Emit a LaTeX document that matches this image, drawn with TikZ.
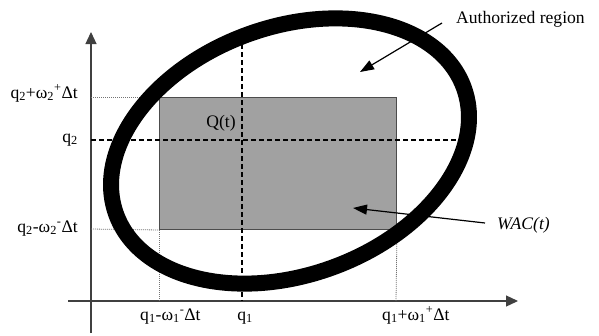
\documentclass[tikz,border=0pt]{standalone}
\usepackage{fontspec}
\setmainfont{Liberation Serif}
\usetikzlibrary{arrows.meta}
\begin{document}
\begin{tikzpicture}[x=1pt,y=-1pt,
  font=\fontsize{17.6}{20}\selectfont,
  lab/.style={inner sep=0pt},
  axisln/.style={line width=1.2pt, draw=black!75, -{Triangle[length=12pt,width=11pt]}},
  dashln/.style={line width=1.3pt, dash pattern=on 5pt off 3pt},
  dotln/.style={line width=0.8pt, draw=black!55, dash pattern=on 1pt off 1pt},
  ring/.style={line width=16pt},
  pointer/.style={line width=1.2pt, -{Triangle[length=14pt,width=10pt]}},
  wacbox/.style={draw=black!70, line width=1pt, fill=black!37, inner sep=0pt, anchor=north west}]
\useasboundingbox (0,0) rectangle (599,335);
% region box
\node[wacbox, minimum width=237pt, minimum height=132pt] (wac) at (159,97) {};
% axes
\coordinate (ybot) at (91,333);
\coordinate (ytop) at (91,32);
\coordinate (xleft) at (68,301);
\coordinate (xright) at (518,301);
\draw[axisln] (ybot) -- (ytop);
\draw[axisln] (xleft) -- (xright);
% dotted guides
\coordinate (yhi) at (91,97);
\coordinate (ylo) at (91,229);
\coordinate (xlo) at (159,301);
\coordinate (xhi) at (396,301);
\draw[dotln] (yhi) -- (wac.north west);
\draw[dotln] (ylo) -- (wac.south west);
\draw[dotln] (wac.south west) -- (xlo);
\draw[dotln] (wac.south east) -- (xhi);
% dashed centre lines
\coordinate (q2a) at (91,140);
\coordinate (q2b) at (457,140);
\coordinate (q1a) at (242,44);
\coordinate (q1b) at (242,301);
\draw[dashln] (q2a) -- (q2b);
\draw[dashln] (q1a) -- (q1b);
% authorized region ring
\coordinate (ctr) at (290,151);
\draw[ring, rotate around={20:(ctr)}] (ctr) ellipse [x radius=185, y radius=124];
% labels
\node[lab, anchor=base west] (auth) at (456,23) {Authorized region};
\node[lab, anchor=base west] (wacl) at (497,229) {\itshape WAC(t)};
\node[lab, anchor=base] (qt) at (221,127) {Q(t)};
\node[lab, anchor=base east] (lq2hi) at (78,98) {q\textsubscript{2}+ω\textsubscript{2}\textsuperscript{+}Δt};
\node[lab, anchor=base east] (lq2) at (78,142) {q\textsubscript{2}};
\node[lab, anchor=base east] (lq2lo) at (78,232) {q\textsubscript{2}-ω\textsubscript{2}\textsuperscript{-}Δt};
\node[lab, anchor=base west] (lq1lo) at (140,320) {q\textsubscript{1}-ω\textsubscript{1}\textsuperscript{-}Δt};
\node[lab, anchor=base] (lq1) at (245,320) {q\textsubscript{1}};
\node[lab, anchor=base west] (lq1hi) at (382,320) {q\textsubscript{1}+ω\textsubscript{1}\textsuperscript{+}Δt};
% pointers
\coordinate (authfrom) at (442,23);
\coordinate (authto) at (360,72);
\coordinate (wacfrom) at (485,223);
\coordinate (wacto) at (353,208);
\draw[pointer] (authfrom) -- (authto);
\draw[pointer] (wacfrom) -- (wacto);
\end{tikzpicture}
\end{document}
